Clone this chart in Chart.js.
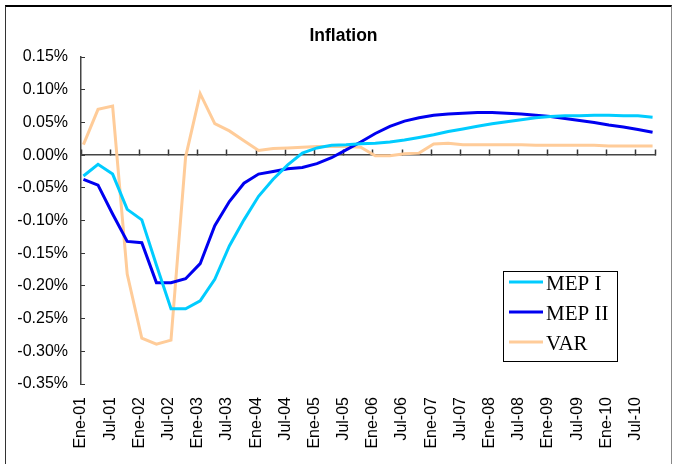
<!DOCTYPE html>
<html>
<head>
<meta charset="utf-8">
<script src="https://cdn.jsdelivr.net/npm/chart.js@4.4.1/dist/chart.umd.min.js"></script>
<style>
  html, body { margin: 0; padding: 0; background: #fff; }
  #wrap { position: relative; width: 676px; height: 464px; overflow: hidden; }
  #frame {
    position: absolute; left: 5px; top: 5px; width: 665px; height: 480px;
    border-left: 1px solid #333; border-top: 2px solid #000; border-right: 1px solid #888;
    pointer-events: none;
  }
  canvas { position: absolute; left: 0; top: 0; }
</style>
</head>
<body>
<div id="wrap">
  <canvas id="chart" width="676" height="464"></canvas>
  <div id="frame"></div>
</div>
<script>
// quarterly observations, Ene-01 .. Oct-10
const quarters = [
  "Ene-01", "Abr-01", "Jul-01", "Oct-01", "Ene-02", "Abr-02", "Jul-02", "Oct-02",
  "Ene-03", "Abr-03", "Jul-03", "Oct-03", "Ene-04", "Abr-04", "Jul-04", "Oct-04",
  "Ene-05", "Abr-05", "Jul-05", "Oct-05", "Ene-06", "Abr-06", "Jul-06", "Oct-06",
  "Ene-07", "Abr-07", "Jul-07", "Oct-07", "Ene-08", "Abr-08", "Jul-08", "Oct-08",
  "Ene-09", "Abr-09", "Jul-09", "Oct-09", "Ene-10", "Abr-10", "Jul-10", "Oct-10",
];

// axis labels every six months
const tickLabels = [
  "Ene-01", "Jul-01", "Ene-02", "Jul-02", "Ene-03", "Jul-03", "Ene-04", "Jul-04",
  "Ene-05", "Jul-05", "Ene-06", "Jul-06", "Ene-07", "Jul-07", "Ene-08", "Jul-08",
  "Ene-09", "Jul-09", "Ene-10", "Jul-10",
];

// values in percent
const mep1 = [
  -0.032, -0.014, -0.029, -0.083, -0.099, -0.168, -0.235, -0.235,
  -0.223, -0.190, -0.139, -0.099, -0.063, -0.037, -0.015, 0.003,
  0.011, 0.015, 0.016, 0.0175, 0.018, 0.020, 0.023, 0.027,
  0.031, 0.036, 0.040, 0.044, 0.048, 0.051, 0.054, 0.057,
  0.059, 0.060, 0.060, 0.061, 0.061, 0.060, 0.060, 0.058,
];

const mep2 = [
  -0.037, -0.046, -0.090, -0.132, -0.134, -0.195, -0.195, -0.189,
  -0.166, -0.108, -0.071, -0.043, -0.029, -0.025, -0.021, -0.019,
  -0.013, -0.004, 0.008, 0.020, 0.033, 0.044, 0.052, 0.057,
  0.061, 0.063, 0.064, 0.065, 0.065, 0.064, 0.063, 0.061,
  0.059, 0.056, 0.053, 0.050, 0.046, 0.043, 0.039, 0.035,
];

const varModel = [
  0.016, 0.070, 0.075, -0.182, -0.280, -0.289, -0.283, -0.003,
  0.094, 0.048, 0.037, 0.022, 0.007, 0.010, 0.011, 0.012,
  0.013, 0.013, 0.013, 0.012, -0.001, -0.001, 0.002, 0.003,
  0.017, 0.018, 0.016, 0.016, 0.016, 0.016, 0.016, 0.015,
  0.015, 0.015, 0.015, 0.015, 0.014, 0.014, 0.014, 0.014,
];

const monthNum = { Ene: 0, Abr: 3, Jul: 6, Oct: 9 };

// months since Ene-01, point sits in the middle of its month
function monthPos(label) {
  const [m, yy] = label.split("-");
  return (Number(yy) - 1) * 12 + monthNum[m] + 0.5;
}

function series(values) {
  return values.map((v, i) => ({ x: monthPos(quarters[i]), y: v }));
}

const totalMonths = monthPos(quarters[quarters.length - 1]) + 0.5;

Chart.defaults.font.family = '"Liberation Sans", Arial, sans-serif';
Chart.defaults.color = "#000";

const legendBox = {
  id: "legendBox",
  afterDraw(chart) {
    const ctx = chart.ctx;
    ctx.save();
    ctx.fillStyle = "#fff";
    ctx.fillRect(503, 271, 114, 90);
    ctx.strokeStyle = "#000";
    ctx.lineWidth = 1;
    ctx.strokeRect(503.5, 271.5, 114, 90);
    ctx.font = '21px "Liberation Serif", "Times New Roman", serif';
    ctx.textBaseline = "middle";
    chart.data.datasets.forEach((ds, i) => {
      const y = 282 + i * 30;
      ctx.strokeStyle = ds.borderColor;
      ctx.lineWidth = 3;
      ctx.beginPath();
      ctx.moveTo(509, y);
      ctx.lineTo(543, y);
      ctx.stroke();
      ctx.fillStyle = "#000";
      ctx.fillText(ds.label, 546, y + 2.5);
    });
    ctx.restore();
  },
};

const titleShift = {
  id: "titleShift",
  afterLayout(chart) {
    chart.titleBlock.left = 11;
    chart.titleBlock.right = 676;
  },
};

new Chart(document.getElementById("chart"), {
  type: "line",
  data: {
    datasets: [
      { label: "MEP I", data: series(mep1), borderColor: "#00CCFF" },
      { label: "MEP II", data: series(mep2), borderColor: "#0000F0" },
      { label: "VAR", data: series(varModel), borderColor: "#FFCC99" },
    ],
  },
  options: {
    responsive: false,
    animation: false,
    layout: { padding: { left: 0, right: 21, top: 0, bottom: 0 } },
    elements: {
      line: { borderWidth: 3, tension: 0, borderCapStyle: "butt" },
      point: { radius: 0 },
    },
    scales: {
      x: {
        type: "linear",
        position: "bottom",
        min: 0,
        max: totalMonths,
        bounds: "data",
        grid: { display: false, drawTicks: false },
        border: { display: false },
        ticks: {
          stepSize: 6,
          includeBounds: false,
          autoSkip: false,
          minRotation: 90,
          maxRotation: 90,
          padding: 13,
          font: { size: 16 },
          callback: (v) => (v % 6 === 0 ? tickLabels[v / 6] || "" : ""),
        },
        afterFit: (scale) => {
          scale.height = 80;
          scale.paddingLeft = 0;
          scale.paddingRight = 0;
        },
      },
      x0: {
        type: "linear",
        axis: "x",
        position: { y: 0 },
        min: 0,
        max: totalMonths,
        bounds: "data",
        grid: {
          drawOnChartArea: false,
          drawTicks: true,
          tickLength: -6,
          tickColor: "#333",
          tickWidth: 1.5,
        },
        border: { display: true, color: "#444", width: 1.5 },
        ticks: { display: false, stepSize: 6, includeBounds: false, autoSkip: false },
        afterFit: (scale) => {
          scale.paddingLeft = 0;
          scale.paddingRight = 0;
        },
      },
      y: {
        min: -0.35,
        max: 0.15,
        grid: {
          drawOnChartArea: false,
          drawTicks: true,
          tickLength: -4,
          tickColor: "#333",
        },
        border: { display: true, color: "#444", width: 1.5 },
        ticks: {
          stepSize: 0.05,
          padding: 17,
          font: { size: 16 },
          callback: (v) => (Math.abs(v) < 1e-9 ? 0 : v).toFixed(2) + "%",
        },
        afterFit: (scale) => {
          scale.width = 81;
        },
      },
    },
    plugins: {
      legend: { display: false },
      tooltip: { enabled: false },
      title: {
        display: true,
        text: "Inflation",
        color: "#000",
        font: { size: 17.5, weight: "bold" },
        padding: { top: 26, bottom: 10 },
      },
    },
  },
  plugins: [legendBox, titleShift],
});
</script>
</body>
</html>
